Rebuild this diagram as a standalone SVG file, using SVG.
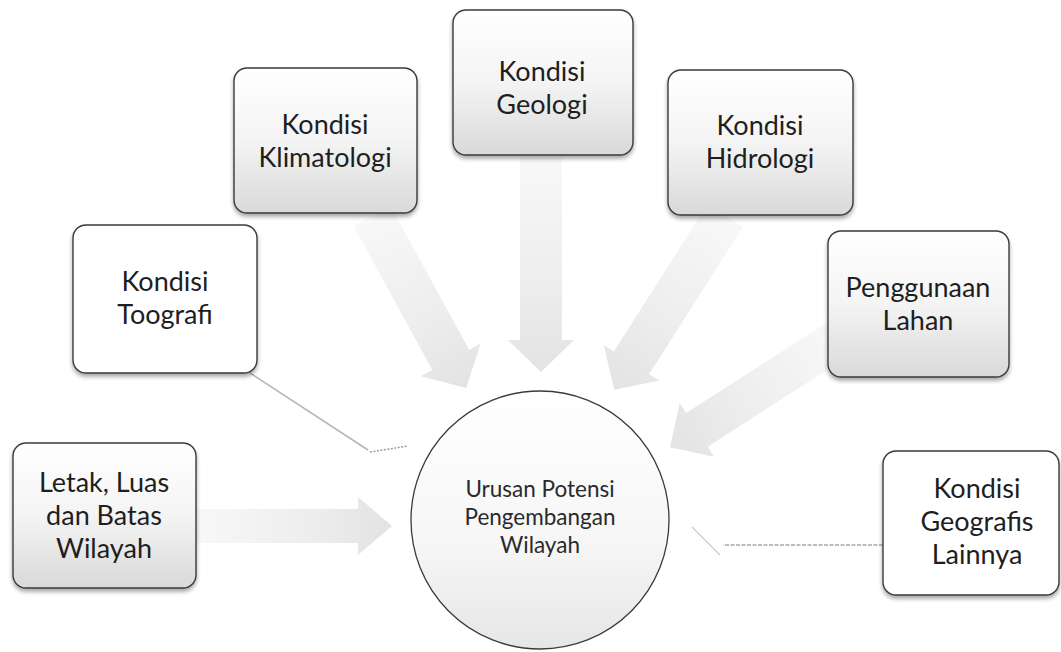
<svg xmlns="http://www.w3.org/2000/svg" width="1061" height="652" viewBox="0 0 1061 652">
<style>
.box{stroke:#3a3a3a;stroke-width:1.4;}
.g{fill:url(#boxGrad);}
.w{fill:#ffffff;}
.t{font-family:Lato,"Open Sans","Liberation Sans",sans-serif;font-size:27px;fill:#1e1e1e;text-anchor:middle;}
.ct{font-family:Lato,"Open Sans","Liberation Sans",sans-serif;font-size:22.5px;fill:#2a2a2a;text-anchor:middle;}
.arrow{fill:url(#arrGrad);}
.thin{fill:none;stroke:#b4b4b4;stroke-width:1.5;}
</style>
<defs>
<linearGradient id="boxGrad" x1="0" y1="0" x2="0" y2="1">
<stop offset="0" stop-color="#ffffff"/>
<stop offset="0.5" stop-color="#f4f4f4"/>
<stop offset="1" stop-color="#d9d9d9"/>
</linearGradient>
<linearGradient id="circGrad" x1="0" y1="0" x2="0" y2="1">
<stop offset="0" stop-color="#ffffff"/>
<stop offset="0.6" stop-color="#f6f6f6"/>
<stop offset="1" stop-color="#e6e6e6"/>
</linearGradient>
<linearGradient id="arrGrad" x1="0" y1="0" x2="1" y2="0">
<stop offset="0" stop-color="#f8f8f8"/>
<stop offset="0.6" stop-color="#ededed"/>
<stop offset="1" stop-color="#e3e3e3"/>
</linearGradient>
<filter id="sh" x="-10%" y="-10%" width="120%" height="125%">
<feGaussianBlur in="SourceAlpha" stdDeviation="2"/>
<feOffset dx="0" dy="3" result="b"/>
<feComponentTransfer><feFuncA type="linear" slope="0.35"/></feComponentTransfer>
<feMerge><feMergeNode/><feMergeNode in="SourceGraphic"/></feMerge>
</filter>
</defs>
<rect width="1061" height="652" fill="#ffffff"/>

<g id="connectors">
<polygon class="arrow" transform="translate(372,216) rotate(61.3)" points="0,-21 164,-21 164,-34 196,0 164,34 164,21 0,21"/>
<polygon class="arrow" transform="translate(541,157) rotate(90)" points="0,-21 183,-21 183,-33 215,0 183,33 183,21 0,21"/>
<polygon class="arrow" transform="translate(725,216) rotate(122.5)" points="0,-21 174,-21 174,-33 206,0 174,33 174,21 0,21"/>
<polygon class="arrow" transform="translate(840,338) rotate(147.3)" points="0,-20 170,-20 170,-32 202,0 170,32 170,20 0,20"/>
<polygon class="arrow" transform="translate(196,526)" points="0,-17 162,-17 162,-29 196,0 162,29 162,17 0,17"/>
<line class="thin" x1="250" y1="373" x2="368" y2="450"/>
<line class="thin" x1="370" y1="452" x2="408" y2="446" stroke-dasharray="2 1.5" style="stroke:#9a9a9a"/>
<line class="thin" x1="883" y1="545" x2="723" y2="545" stroke-dasharray="4 1.5" style="stroke:#a8a8a8"/>
<line class="thin" x1="692" y1="527" x2="720" y2="555" style="stroke:#cfcfcf"/>
</g>

<g id="center">
<circle cx="540" cy="520" r="129" fill="url(#circGrad)" stroke="#3a3a3a" stroke-width="1.3"/>
<text class="ct" x="540" y="497">Urusan Potensi</text>
<text class="ct" x="540" y="525">Pengembangan</text>
<text class="ct" x="540" y="553">Wilayah</text>
</g>

<g id="klimatologi">
<rect class="box g" x="234" y="68" width="183" height="145" rx="13" filter="url(#sh)"/>
<text class="t" x="325" y="134">Kondisi</text>
<text class="t" x="325" y="167">Klimatologi</text>
</g>

<g id="geologi">
<rect class="box g" x="453" y="10" width="180" height="145" rx="13" filter="url(#sh)"/>
<text class="t" x="542" y="81">Kondisi</text>
<text class="t" x="542" y="114">Geologi</text>
</g>

<g id="hidrologi">
<rect class="box g" x="668" y="70" width="185" height="145" rx="13" filter="url(#sh)"/>
<text class="t" x="760" y="135">Kondisi</text>
<text class="t" x="760" y="168">Hidrologi</text>
</g>

<g id="penggunaan">
<rect class="box g" x="828" y="231" width="181" height="146" rx="13" filter="url(#sh)"/>
<text class="t" x="918" y="297">Penggunaan</text>
<text class="t" x="918" y="330">Lahan</text>
</g>

<g id="toografi">
<rect class="box w" x="73" y="225" width="184" height="148" rx="13" filter="url(#sh)"/>
<text class="t" x="165" y="291">Kondisi</text>
<text class="t" x="165" y="324">Toografi</text>
</g>

<g id="letak">
<rect class="box g" x="13" y="443" width="183" height="145" rx="13" filter="url(#sh)"/>
<text class="t" x="104" y="492">Letak, Luas</text>
<text class="t" x="104" y="525">dan Batas</text>
<text class="t" x="104" y="558">Wilayah</text>
</g>

<g id="geografis">
<rect class="box w" x="883" y="451" width="176" height="144" rx="13" filter="url(#sh)"/>
<text class="t" x="977" y="498">Kondisi</text>
<text class="t" x="977" y="531">Geografis</text>
<text class="t" x="977" y="564">Lainnya</text>
</g>
</svg>
